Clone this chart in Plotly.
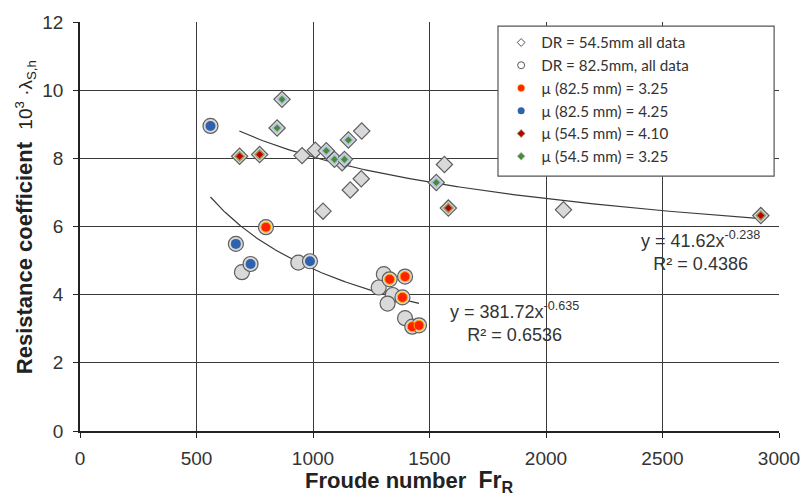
import numpy as np
import plotly.graph_objects as go

# ---------------- data ----------------
# DR = 82.5 mm circles
c_blue_x = [560, 669, 732, 987]
c_blue_y = [8.95, 5.49, 4.90, 4.98]
c_red_x = [798, 1329, 1395, 1384, 1426, 1455]
c_red_y = [5.98, 4.45, 4.53, 3.92, 3.06, 3.10]
c_gray_x = [695, 937, 1304, 1282, 1342, 1320, 1395]
c_gray_y = [4.66, 4.94, 4.60, 4.21, 3.99, 3.74, 3.31]

# DR = 54.5 mm diamonds
d_green_x = [867, 846, 1057, 1092, 1135, 1152, 1529]
d_green_y = [9.73, 8.89, 8.22, 7.97, 7.97, 8.54, 7.29]
d_red_x = [685, 771, 1581, 2922]
d_red_y = [8.06, 8.11, 6.54, 6.32]
d_gray_x = [953, 1010, 1125, 1209, 1207, 1160, 1043, 1564, 2075]
d_gray_y = [8.08, 8.24, 7.87, 8.80, 7.40, 7.07, 6.45, 7.82, 6.49]

# power-law fits y = a * x^b (coefficients shown on the chart)
fit_545 = dict(a=41.62, b=-0.238, xmin=684, xmax=2922, r2="0.4386")
fit_825 = dict(a=381.72, b=-0.635, xmin=560, xmax=1455, r2="0.6536")

x_ticks = [0, 500, 1000, 1500, 2000, 2500, 3000]
y_ticks = [0, 2, 4, 6, 8, 10, 12]

legend_labels = ["DR = 54.5mm all data", "DR = 82.5mm, all data",
                 "µ (82.5 mm) = 3.25", "µ (82.5 mm) = 4.25",
                 "µ (54.5 mm) = 4.10", "µ (54.5 mm) = 3.25"]

# ---------------- figure ----------------
GRAYFILL = "#d9d9d9"
OUTLINE = "#5f5f5f"
RED = "#ff2200"
BLUE = "#2f62ad"
DRED = "#c00000"
GREEN = "#4e8a34"

fig = go.Figure()

def fitline(f):
    xs = np.linspace(f["xmin"], f["xmax"], 200)
    return xs, f["a"] * xs ** f["b"]

for f in (fit_545, fit_825):
    xs, ys = fitline(f)
    fig.add_trace(go.Scatter(x=xs, y=ys, mode="lines", showlegend=False,
                             line=dict(color="#3a3a3a", width=1.2), hoverinfo="skip"))

# base gray markers (all data)
all_d_x = d_gray_x + d_green_x + d_red_x
all_d_y = d_gray_y + d_green_y + d_red_y
all_c_x = c_gray_x + c_blue_x + c_red_x
all_c_y = c_gray_y + c_blue_y + c_red_y

fig.add_trace(go.Scatter(x=all_d_x, y=all_d_y, mode="markers", showlegend=False,
                         marker=dict(symbol="diamond", size=12.5, color=GRAYFILL,
                                     line=dict(color=OUTLINE, width=1.2))))
fig.add_trace(go.Scatter(x=all_c_x, y=all_c_y, mode="markers", showlegend=False,
                         marker=dict(symbol="circle", size=15, color=GRAYFILL,
                                     line=dict(color=OUTLINE, width=1.2))))

# coloured overlays
fig.add_trace(go.Scatter(x=c_red_x, y=c_red_y, mode="markers", showlegend=False,
                         marker=dict(symbol="circle", size=10, color=RED,
                                     line=dict(color="#ffb000", width=1))))
fig.add_trace(go.Scatter(x=c_blue_x, y=c_blue_y, mode="markers", showlegend=False,
                         marker=dict(symbol="circle", size=10, color=BLUE,
                                     line=dict(color=BLUE, width=0))))
fig.add_trace(go.Scatter(x=d_red_x, y=d_red_y, mode="markers", showlegend=False,
                         marker=dict(symbol="diamond", size=7, color=DRED,
                                     line=dict(color="#8f9a5a", width=1.5))))
fig.add_trace(go.Scatter(x=d_green_x, y=d_green_y, mode="markers", showlegend=False,
                         marker=dict(symbol="diamond", size=7, color=GREEN,
                                     line=dict(color="#a8c2df", width=1.5))))

# legend entries (small symbols as in the reference)
leg_styles = [
    dict(symbol="diamond", size=6, color="white", line=dict(color="#555555", width=1)),
    dict(symbol="circle", size=7, color="white", line=dict(color="#555555", width=1)),
    dict(symbol="circle", size=7, color=RED, line=dict(color="#ffb000", width=0.5)),
    dict(symbol="circle", size=7, color=BLUE, line=dict(color=BLUE, width=0)),
    dict(symbol="diamond", size=6, color=DRED, line=dict(color="#8f9a5a", width=0.8)),
    dict(symbol="diamond", size=6, color=GREEN, line=dict(color="#a8c2df", width=0.8)),
]
for lab, st in zip(legend_labels, leg_styles):
    fig.add_trace(go.Scatter(x=[None], y=[None], mode="markers", name=lab, marker=st))

# equations
EQ_FONT = dict(family="Liberation Sans, Arial", size=18, color="#333333")
fig.add_annotation(x=1864, y=3.2, xref="x", yref="y", showarrow=False,
                   text="y = 381.72x<sup>-0.635</sup><br>R² = " + fit_825["r2"],
                   font=EQ_FONT, align="center")
fig.add_annotation(x=2662, y=5.29, xref="x", yref="y", showarrow=False,
                   text="y = 41.62x<sup>-0.238</sup><br>R² = " + fit_545["r2"],
                   font=EQ_FONT, align="center")

# axis titles
fig.add_annotation(x=(306 - 80) / 708, y=(431 - 482) / 410, xref="paper", yref="paper",
                   xanchor="left", yanchor="middle", showarrow=False,
                   text="<b>Froude number  <span style='font-size:23px'>Fr<sub>R</sub></span></b>",
                   font=dict(family="Liberation Sans, Arial", size=22, color="#222222"))
fig.add_annotation(x=(25 - 80) / 708, y=(431 - 217) / 410, xref="paper", yref="paper",
                   xanchor="center", yanchor="middle", showarrow=False, textangle=-90,
                   text="<b>Resistance coefficient</b>  <span style='font-size:19px'>10<sup>3</sup> ·λ<sub>S,h</sub></span>",
                   font=dict(family="Liberation Sans, Arial", size=22, color="#222222"))

# legend box
fig.add_shape(type="rect", xref="paper", yref="paper",
              x0=0.598, x1=0.993, y0=0.623, y1=0.990,
              fillcolor="white", line=dict(color="#555555", width=1.2), layer="above")

AX_FONT = dict(family="Liberation Sans, Arial", size=19, color="#333333")
fig.update_layout(
    width=812, height=497,
    margin=dict(l=80, r=24, t=21, b=66),
    paper_bgcolor="white", plot_bgcolor="white",
    font=dict(family="Liberation Sans, Arial", color="#222222"),
    showlegend=True,
    legend=dict(x=0.6025, y=0.99, xanchor="left", yanchor="top",
                bgcolor="rgba(0,0,0,0)", borderwidth=0,
                font=dict(family="Lato", size=15.2, color="#333333"),
                itemwidth=30, tracegroupgap=0),
    xaxis=dict(range=[0, 3000], tickvals=x_ticks, ticktext=[str(v) for v in x_ticks],
               showgrid=True, gridcolor="#3a3a3a", gridwidth=1,
               showline=True, linecolor="#222222", linewidth=1.5,
               ticks="outside", ticklen=5, tickcolor="#222222",
               tickfont=AX_FONT, zeroline=False, ticklabelstandoff=4),
    yaxis=dict(range=[0, 12], tickvals=y_ticks, ticktext=[str(v) for v in y_ticks],
               showgrid=True, gridcolor="#3a3a3a", gridwidth=1,
               showline=True, linecolor="#222222", linewidth=1.5,
               ticks="outside", ticklen=5, tickcolor="#222222",
               tickfont=AX_FONT, zeroline=False, ticklabelstandoff=6),
)

fig.write_html("out.html")
